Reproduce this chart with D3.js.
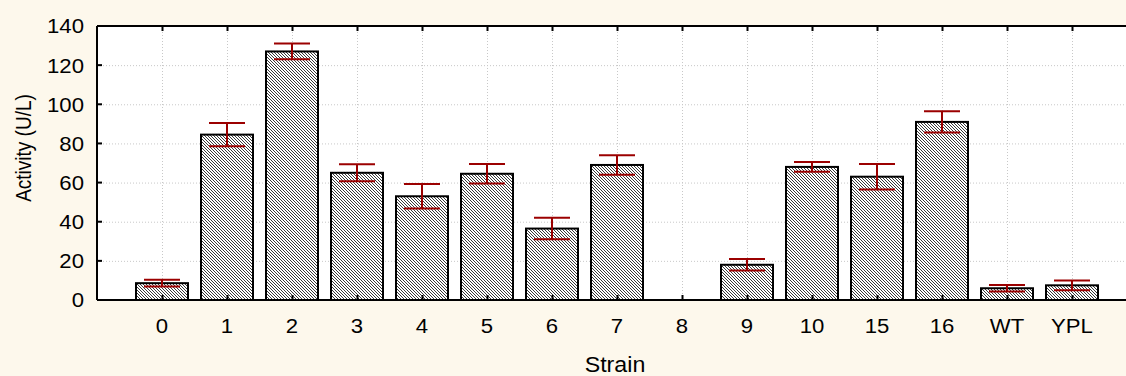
<!DOCTYPE html>
<html><head><meta charset="utf-8">
<script src="https://cdn.jsdelivr.net/npm/d3@7"></script>
<style>html,body{margin:0;padding:0;background:#fdf8ec;}svg{display:block;}</style>
</head><body>
<svg id="chart" width="1126" height="376"></svg>
<script>
const categories = ["0","1","2","3","4","5","6","7","8","9","10","15","16","WT","YPL"];
const activity  = [8.6, 84.5, 127, 65, 53, 64.5, 36.5, 69, 0, 18, 68, 63, 91, 6, 7.5];
const errorBar  = [1.7, 6, 4, 4.3, 6.3, 5, 5.5, 5, 0, 2.9, 2.5, 6.5, 5.4, 1.7, 2.5];
const yTicks = [0,20,40,60,80,100,120,140];

const W = 1126, H = 376;
const m = {left: 97, top: 26, right: 0, bottom: 76};
const svg = d3.select("#chart");
const pw = W - m.left - m.right, ph = H - m.top - m.bottom;

const x = d3.scaleLinear().domain([-1, -1 + pw/65]).range([m.left, W - m.right]);
const y = d3.scaleLinear().domain([0,140]).range([m.top + ph, m.top]);
const bw = 52;

const defs = svg.append("defs");
const pat = defs.append("pattern").attr("id","hatch").attr("patternUnits","userSpaceOnUse")
  .attr("width",3).attr("height",3);
pat.append("rect").attr("width",3).attr("height",3).attr("fill","#ffffff");
pat.append("path").attr("d","M0,0 L3,3 M-1,2 L1,4 M2,-1 L4,1").attr("stroke","#222").attr("stroke-width",0.9);

svg.append("rect").attr("x",m.left).attr("y",m.top).attr("width",pw).attr("height",ph).attr("fill","#fff");

// grid
const g = svg.append("g");
g.selectAll(".hg").data(yTicks.slice(1,-1)).join("line")
  .attr("x1",m.left).attr("x2",W).attr("y1",d=>y(d)+0.5).attr("y2",d=>y(d)+0.5)
  .attr("stroke","#c8c8c8").attr("stroke-dasharray","1,2");
g.selectAll(".vg").data(categories).join("line")
  .attr("x1",(d,i)=>Math.round(x(i))+0.5).attr("x2",(d,i)=>Math.round(x(i))+0.5)
  .attr("y1",m.top).attr("y2",m.top+ph)
  .attr("stroke","#c8c8c8").attr("stroke-dasharray","1,2");

// bars
const bars = categories.map((c,i)=>({c,i,v:activity[i],e:errorBar[i]})).filter(d=>d.v>0);
svg.selectAll(".bar").data(bars).join("rect")
  .attr("x",d=>x(d.i)-bw/2).attr("width",bw)
  .attr("y",d=>y(d.v)).attr("height",d=>y(0)-y(d.v))
  .attr("fill","url(#hatch)").attr("stroke","#000").attr("stroke-width",2);

// error bars
const ec = "#9b0000", cw = 36;
const eb = svg.append("g").attr("stroke",ec).attr("stroke-width",2);
bars.forEach(d=>{
  const cx = x(d.i);
  eb.append("line").attr("x1",cx).attr("x2",cx).attr("y1",y(d.v+d.e)).attr("y2",y(d.v-d.e));
  eb.append("line").attr("x1",cx-cw/2).attr("x2",cx+cw/2).attr("y1",y(d.v+d.e)).attr("y2",y(d.v+d.e));
  eb.append("line").attr("x1",cx-cw/2).attr("x2",cx+cw/2).attr("y1",y(d.v-d.e)).attr("y2",y(d.v-d.e));
});

// frame
svg.append("line").attr("x1",m.left).attr("x2",W).attr("y1",m.top).attr("y2",m.top).attr("stroke","#000").attr("stroke-width",2);
svg.append("line").attr("x1",m.left).attr("x2",W).attr("y1",m.top+ph).attr("y2",m.top+ph).attr("stroke","#000").attr("stroke-width",2);
svg.append("line").attr("x1",m.left).attr("x2",m.left).attr("y1",m.top).attr("y2",m.top+ph).attr("stroke","#000").attr("stroke-width",2);

// ticks
const tk = svg.append("g").attr("stroke","#000").attr("stroke-width",2);
categories.forEach((c,i)=>{
  const cx = Math.round(x(i))+0.5;
  tk.append("line").attr("x1",cx).attr("x2",cx).attr("y1",m.top).attr("y2",m.top+5);
  tk.append("line").attr("x1",cx).attr("x2",cx).attr("y1",m.top+ph).attr("y2",m.top+ph-5);
});
yTicks.forEach(v=>{
  tk.append("line").attr("x1",m.left).attr("x2",m.left+5).attr("y1",y(v)).attr("y2",y(v));
});

const font = "'Liberation Sans', Arial, sans-serif";
const sx = 1.08;
svg.selectAll(".yl").data(yTicks).join("text")
  .attr("transform",d=>`translate(84,${y(d)}) scale(${sx},1)`).attr("dy","0.36em").attr("text-anchor","end")
  .attr("font-family",font).attr("font-size",20.5).attr("fill","#000").text(d=>d);
svg.selectAll(".xl").data(categories).join("text")
  .attr("transform",(d,i)=>`translate(${x(i)},333) scale(${sx},1)`).attr("text-anchor","middle")
  .attr("font-family",font).attr("font-size",20.5).attr("fill","#000").text(d=>d);
svg.append("text").attr("transform",`translate(615,372) scale(${sx},1)`).attr("text-anchor","middle")
  .attr("font-family",font).attr("font-size",21.5).attr("fill","#000").text("Strain");
svg.append("text").attr("transform","translate(31,148) rotate(-90) scale(1,1.15)").attr("text-anchor","middle")
  .attr("font-family",font).attr("font-size",19).attr("fill","#000").text("Activity (U/L)");
</script>
</body></html>
